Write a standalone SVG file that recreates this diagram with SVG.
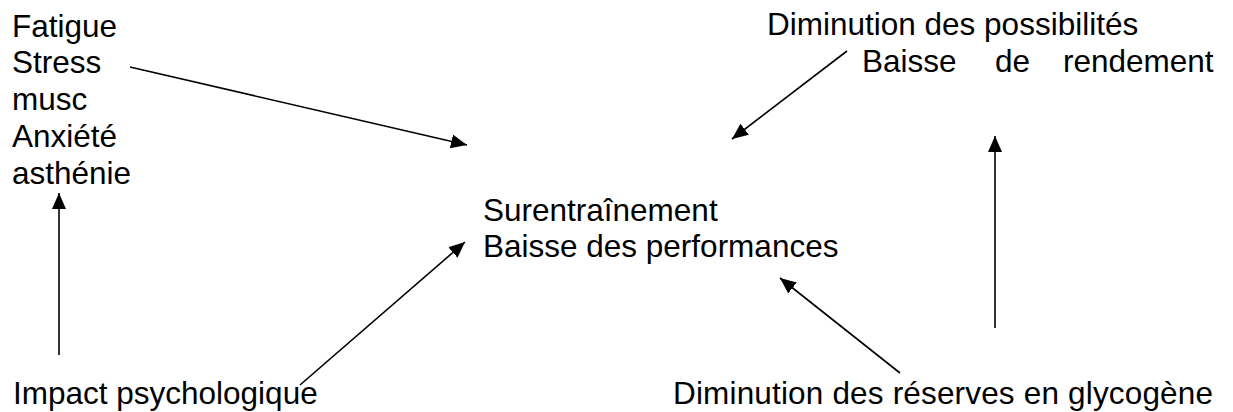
<svg xmlns="http://www.w3.org/2000/svg" width="1233" height="412" viewBox="0 0 1233 412">
<style>
text{font-family:"Liberation Sans",Arial,sans-serif;font-size:31.5px;fill:#000}
.c line{stroke:#000;stroke-width:1.6;fill:none;marker-end:url(#ah)}
</style>
<defs>
<marker id="ah" markerUnits="userSpaceOnUse" markerWidth="16" markerHeight="14" refX="16" refY="7" orient="auto">
<path d="M0,0 L16,7 L0,14 z" fill="#000"/>
</marker>
</defs>
<rect width="1233" height="412" fill="#fff"/>
<g id="symptoms">
<text x="12" y="37">Fatigue</text>
<text x="12" y="73">Stress</text>
<text x="12" y="110">musc</text>
<text x="12" y="147">Anxiété</text>
<text x="12" y="184">asthénie</text>
</g>
<g id="center">
<text x="483" y="221">Surentraînement</text>
<text x="483" y="257">Baisse des performances</text>
</g>
<g id="possibilites">
<text x="767" y="35">Diminution des possibilités</text>
<text x="862" y="72">Baisse</text>
<text x="995" y="72">de</text>
<text x="1063" y="72">rendement</text>
</g>
<g id="impact">
<text x="13" y="404">Impact psychologique</text>
</g>
<g id="glycogene">
<text x="673" y="404" textLength="540" lengthAdjust="spacing">Diminution des réserves en glycogène</text>
</g>
<g id="connectors" class="c">
<line x1="130" y1="67" x2="467" y2="145"/>
<line x1="59" y1="355" x2="59" y2="193"/>
<line x1="300" y1="385" x2="465" y2="242"/>
<line x1="847" y1="51" x2="732" y2="139"/>
<line x1="995" y1="328" x2="995" y2="136"/>
<line x1="900" y1="373" x2="780" y2="278"/>
</g>
</svg>
